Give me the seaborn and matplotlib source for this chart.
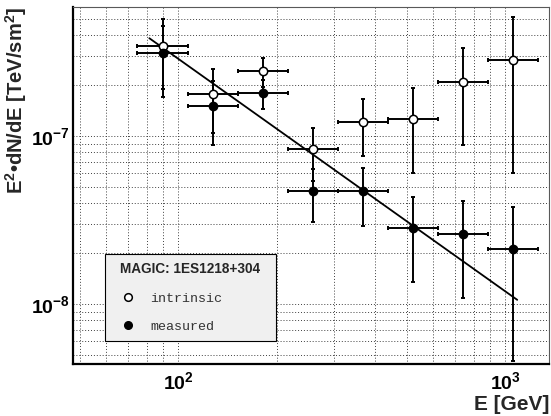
import numpy as np
import pandas as pd
import matplotlib
matplotlib.use("Agg")
import matplotlib.pyplot as plt
import seaborn as sns
from matplotlib.lines import Line2D
from matplotlib.ticker import NullFormatter, LogLocator

# ---- data ----
energy = [89.6, 127.3, 180.9, 257.6, 367.1, 521.8, 741.3, 1052.7]
e_low = [74.8, 107.3, 152.5, 216.7, 307.8, 436.3, 621.8, 883.8]
e_high = [107.3, 152.5, 216.7, 307.8, 436.3, 621.8, 883.8, 1259.0]

intrinsic = [3.434e-7, 1.771e-7, 2.436e-7, 8.334e-8, 1.211e-7, 1.262e-7, 2.105e-7, 2.834e-7]
intr_low = [1.894e-7, 1.038e-7, 1.957e-7, 5.40e-8, 7.63e-8, 6.0e-8, 8.80e-8, 6.05e-8]
intr_high = [4.97e-7, 2.494e-7, 2.924e-7, 1.12e-7, 1.667e-7, 1.923e-7, 3.354e-7, 5.087e-7]

measured = [3.107e-7, 1.509e-7, 1.795e-7, 4.724e-8, 4.685e-8, 2.845e-8, 2.60e-8, 2.125e-8]
meas_low = [1.714e-7, 8.84e-8, 1.442e-7, 3.064e-8, 2.924e-8, 1.346e-8, 1.09e-8, 4.58e-9]
meas_high = [4.498e-7, 2.125e-7, 2.154e-7, 6.35e-8, 6.42e-8, 4.35e-8, 4.10e-8, 3.795e-8]

fit_e = [81.5, 1087.5]
fit_flux = [3.82e-7, 1.06e-8]

x_ticks = [100, 1000]
x_tick_labels = [r"$10^{2}$", r"$10^{3}$"]
y_ticks = [1e-8, 1e-7]
y_tick_labels = [r"$10^{-8}$", r"$10^{-7}$"]
series_names = ["intrinsic", "measured"]
legend_title = "MAGIC: 1ES1218+304"

# ---- style ----
sns.set_theme(style="white")
plt.rcParams["font.family"] = ["Liberation Sans", "DejaVu Sans"]
plt.rcParams["font.weight"] = "bold"
plt.rcParams["mathtext.fontset"] = "custom"
plt.rcParams["mathtext.rm"] = "Liberation Sans:bold"
plt.rcParams["mathtext.it"] = "Liberation Sans:bold"
plt.rcParams["mathtext.bf"] = "Liberation Sans:bold"
plt.rcParams["mathtext.default"] = "rm"

fig = plt.figure(figsize=(5.51, 4.16), dpi=100)
ax = fig.add_axes([0.1319, 0.125, 0.8644, 0.8582])
ax.set_xscale("log")
ax.set_yscale("log")

df_i = pd.DataFrame({"E": energy, "F": intrinsic})
df_m = pd.DataFrame({"E": energy, "F": measured})

def draw_err(vals, lo, hi):
    v = np.array(vals)
    yerr = np.vstack([v - np.array(lo), np.array(hi) - v])
    e = np.array(energy)
    xerr = np.vstack([e - np.array(e_low), np.array(e_high) - e])
    ax.errorbar(e, v, xerr=xerr, yerr=yerr, fmt="none", ecolor="black",
                elinewidth=1.4, capsize=1.6, capthick=1.4, zorder=3)

draw_err(intrinsic, intr_low, intr_high)
draw_err(measured, meas_low, meas_high)

sns.lineplot(x=fit_e, y=fit_flux, ax=ax, color="black", lw=1.3, zorder=4)

sns.scatterplot(data=df_i, x="E", y="F", ax=ax, marker="o", s=36,
                facecolor="white", edgecolor="black", linewidth=1.1, zorder=5)
sns.scatterplot(data=df_m, x="E", y="F", ax=ax, marker="o", s=36,
                color="black", edgecolor="black", linewidth=1.0, zorder=5)

ax.set_xlim(47.5, 1360)
ax.set_ylim(4.4e-9, 5.86e-7)

ax.set_xticks(x_ticks, labels=x_tick_labels)
ax.set_yticks(y_ticks, labels=y_tick_labels)
ax.xaxis.set_minor_locator(LogLocator(base=10, subs=np.arange(2, 10)))
ax.yaxis.set_minor_locator(LogLocator(base=10, subs=np.arange(2, 10)))
ax.xaxis.set_minor_formatter(NullFormatter())
ax.yaxis.set_minor_formatter(NullFormatter())

ax.tick_params(which="both", direction="in", top=False, right=False,
               colors="black", labelsize=14)
ax.tick_params(which="major", length=10, width=1.0)
ax.tick_params(which="minor", length=6, width=1.0)
ax.tick_params(axis="x", pad=5)
ax.tick_params(axis="y", pad=2)

ax.grid(which="both", linestyle=(0, (1, 2)), color="0.25", lw=0.7)
ax.set_axisbelow(True)

for s in ["left", "bottom"]:
    ax.spines[s].set_linewidth(1.6)
    ax.spines[s].set_color("black")
for s in ["top", "right"]:
    ax.spines[s].set_linewidth(0.8)
    ax.spines[s].set_color("0.35")

ax.set_ylabel(r"E$^{2}$•dN/dE [TeV/sm$^{2}$]", loc="top", fontsize=14.5,
              fontweight="bold")
ax.yaxis.set_label_coords(-0.092, 1.0)
ax.set_xlabel("E [GeV]", loc="right", fontsize=15, fontweight="bold")
ax.xaxis.set_label_coords(1.0, -0.088)

handles = [
    Line2D([], [], marker="o", ls="none", mfc="white", mec="black", ms=5.5, mew=1.1),
    Line2D([], [], marker="o", ls="none", mfc="black", mec="black", ms=5.5, mew=1.0),
]
leg = ax.legend(handles, series_names, title=legend_title,
                loc="lower left", bbox_to_anchor=(0.0678, 0.0644, 0.359, 0.24),
                mode="expand", borderaxespad=0,
                prop={"family": "Liberation Mono", "size": 9.6, "weight": "normal"},
                title_fontproperties={"family": "Liberation Sans", "weight": "bold", "size": 9.8},
                frameon=True, fancybox=False, framealpha=1, facecolor="#f0f0f0",
                edgecolor="black", borderpad=0.6, labelspacing=1.2,
                handlelength=2.25, handletextpad=0.55)
leg.get_frame().set_linewidth(0.8)
for t in leg.get_texts():
    t.set_color("#333333")
leg.set_zorder(6)

fig.savefig("out.png", dpi=100)
